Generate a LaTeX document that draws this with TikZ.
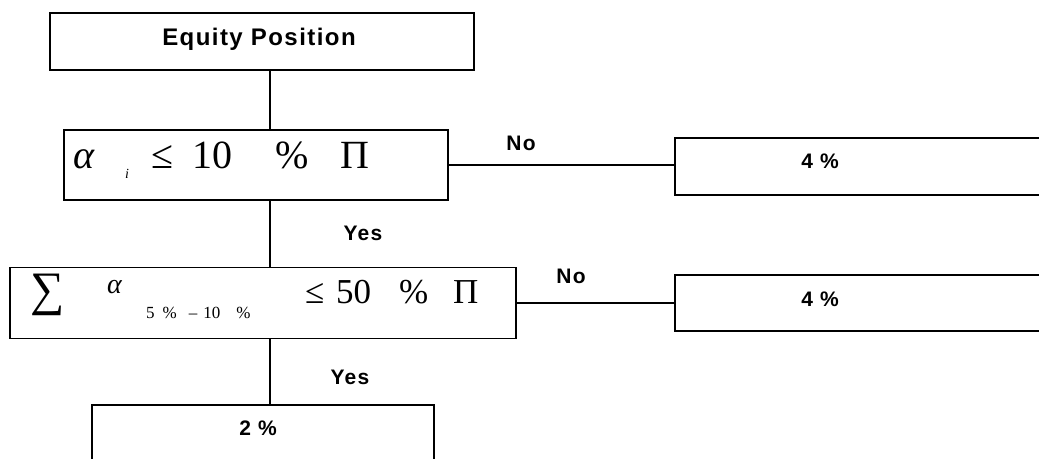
\documentclass[tikz,border=0pt]{standalone}
\usepackage{fontspec}
\setmainfont{Liberation Sans}
\newfontfamily\tnr{Liberation Serif}
\newfontfamily\lbl[LetterSpace=6.0]{Liberation Sans}
\begin{document}
\begin{tikzpicture}[x=1pt,y=-1pt,
  box/.style={draw=black,line width=1.3pt,inner sep=0pt,rectangle},
  conn/.style={draw=black,line width=1.4pt},
  lab/.style={inner sep=0pt,anchor=base,font=\lbl\bfseries\fontsize{21}{24}\selectfont},
  big/.style={inner sep=0pt,anchor=base west,font=\tnr\fontsize{40}{44}\selectfont},
  mid/.style={inner sep=0pt,anchor=base west,font=\tnr\fontsize{35}{40}\selectfont},
  tiny/.style={inner sep=0pt,anchor=base west,font=\tnr\fontsize{17}{19}\selectfont}]
\useasboundingbox (0,0) rectangle (1039,458);
\clip (0,0) rectangle (1039,458);
% boxes
\node[box,minimum width=424pt,minimum height=57pt] (eq) at (262,41.5) {};
\node[box,minimum width=384pt,minimum height=70pt] (c1) at (256,165) {};
\node[box,minimum width=385pt,minimum height=57pt] (r1) at (867.5,166.5) {};
\node[box,minimum width=506pt,minimum height=71pt] (c2) at (263,303) {};
\node[box,minimum width=385pt,minimum height=56pt] (r2) at (867.5,303) {};
\node[box,minimum width=342pt,minimum height=75pt] (b4) at (263,442.5) {};
\coordinate (spine) at (270,0);
% connectors
\draw[conn] (eq.south -| spine) -- (c1.north -| spine);
\draw[conn] (c1.south -| spine) -- (c2.north -| spine);
\draw[conn] (c2.south -| spine) -- (b4.north -| spine);
\draw[conn] (c1.east) -- (c1.east -| r1.west);
\draw[conn] (c2.east) -- (c2.east -| r2.west);
% labels
\node[lab,font=\lbl\bfseries\fontsize{24}{27}\selectfont] (teq) at (259,45) {Equity Position};
\node[lab] (no1) at (521,150) {No};
\node[lab] (no2) at (571,283) {No};
\node[lab] (yes1) at (363,240) {Yes};
\node[lab] (yes2) at (350,384) {Yes};
\node[lab] (p1) at (820,168) {4 \%};
\node[lab] (p2) at (820,306) {4 \%};
\node[lab] (p3) at (258,435) {2 \%};
% condition 1
\node[big] (a1) at (73,168) {\itshape α};
\node[inner sep=0pt,anchor=base west,font=\tnr\itshape\fontsize{14}{16}\selectfont] (i1) at (125,178) {i};
\node[big] (le1) at (151,168) {≤};
\node[big] (n1) at (192,168) {10};
\node[big] (pc1) at (275,168) {\%};
\node[big] (pi1) at (340,168) {Π};
% condition 2
\node[inner sep=0pt,anchor=base west,font=\tnr\fontsize{48}{52}\selectfont] (s2) at (30,305) {∑};
\node[inner sep=0pt,anchor=base west,font=\tnr\itshape\fontsize{28}{30}\selectfont] (a2) at (107,293) {α};
\node[tiny] (sb2) at (146,318) {5\hspace{8pt}\%\hspace{12pt}–\hspace{6pt}10\hspace{16pt}\%};
\node[mid] (le2) at (305,303) {≤};
\node[mid] (n2) at (336,303) {50};
\node[mid] (pc2) at (399,303) {\%};
\node[mid] (pi2) at (453,303) {Π};
\end{tikzpicture}
\end{document}
